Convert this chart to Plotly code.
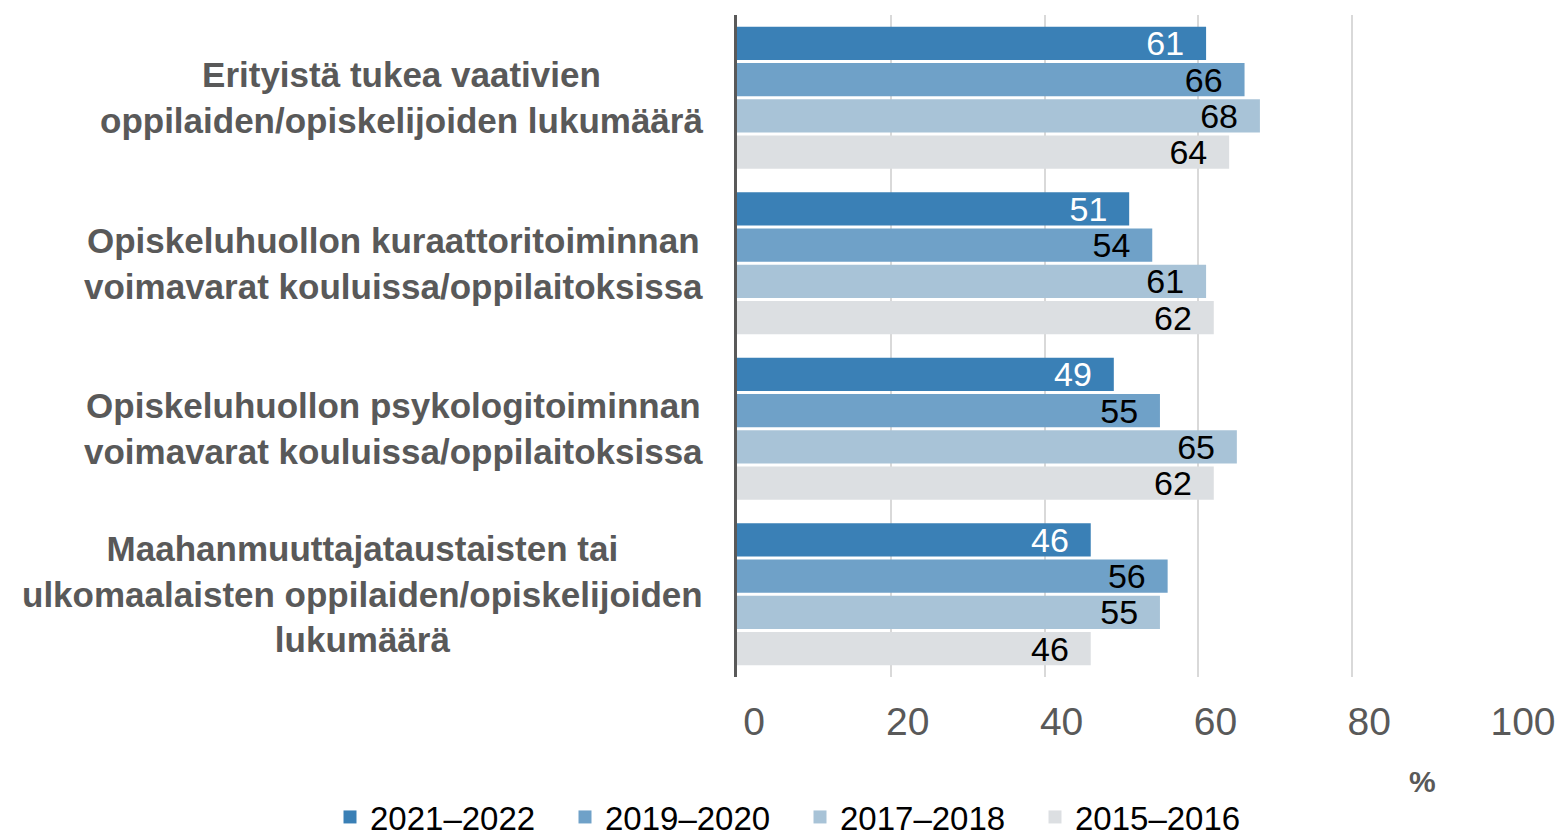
import plotly.graph_objects as go

categories = [
    "Erityistä tukea vaativien<br>oppilaiden/opiskelijoiden lukumäärä",
    "Opiskeluhuollon kuraattoritoiminnan<br>voimavarat kouluissa/oppilaitoksissa",
    "Opiskeluhuollon psykologitoiminnan<br>voimavarat kouluissa/oppilaitoksissa",
    "Maahanmuuttajataustaisten tai<br>ulkomaalaisten oppilaiden/opiskelijoiden<br>lukumäärä",
]
series_names = ["2021–2022", "2019–2020", "2017–2018", "2015–2016"]
v_2021_2022 = [61, 51, 49, 46]
v_2019_2020 = [66, 54, 55, 56]
v_2017_2018 = [68, 61, 65, 55]
v_2015_2016 = [64, 62, 62, 46]
series_values = [v_2021_2022, v_2019_2020, v_2017_2018, v_2015_2016]
x_ticks = [0, 20, 40, 60, 80, 100]

colors = ["#3A80B6", "#6FA1C8", "#A8C3D7", "#DCDFE2"]
text_colors = ["#FFFFFF", "#000000", "#000000", "#000000"]
FONT = "Liberation Sans, Arial, sans-serif"

# page body has an 8px margin; figure is sized to fit the window
W, H = 1555, 828
L, R, T, B = 729, 57, 7, 159
PW = W - L - R
PH = H - T - B

fig = go.Figure()
for name, vals, col, tcol in zip(series_names, series_values, colors, text_colors):
    fig.add_trace(go.Bar(
        y=categories, x=vals, orientation="h", name=name,
        marker=dict(color=col, line=dict(width=0)),
        text=[f"{v}\u00a0\u00a0" for v in vals],
        textposition="inside", insidetextanchor="end",
        constraintext="none",
        textfont=dict(family=FONT, size=34, color=tcol),
        showlegend=False, hoverinfo="skip",
    ))
    fig.add_trace(go.Scatter(
        x=[None], y=[None], mode="markers", name=name,
        marker=dict(symbol="square", size=13, color=col),
        showlegend=True, hoverinfo="skip",
    ))

for cat in categories:
    fig.add_annotation(
        text=cat, xref="paper", yref="y", x=-32 / PW, y=cat,
        xanchor="right", yanchor="middle", align="center", showarrow=False,
        font=dict(family=FONT, size=35, color="#595959", weight="bold"),
    )

fig.add_annotation(
    text="%", xref="paper", yref="paper", x=(1414 - L) / PW, y=-(773 - (T + PH)) / PH,
    xanchor="center", yanchor="middle", showarrow=False,
    font=dict(family=FONT, size=30, color="#595959", weight="bold"),
)

fig.update_layout(
    width=W, height=H,
    margin=dict(l=L, r=R, t=T, b=B, autoexpand=False),
    barmode="group", bargap=0.124, bargroupgap=0.08,
    plot_bgcolor="white", paper_bgcolor="white",
    font=dict(family=FONT),
    legend=dict(
        orientation="h", xref="paper", yref="paper",
        x=(322 - L) / PW, y=-(809 - (T + PH)) / PH, xanchor="left", yanchor="middle",
        font=dict(family=FONT, size=33, color="#000000"),
        entrywidth=190, entrywidthmode="pixels",
        bgcolor="rgba(0,0,0,0)",
    ),
    xaxis=dict(
        range=[0, 100], tickvals=x_ticks, showgrid=True,
        gridcolor="#D9D9D9", gridwidth=2, zeroline=False, showline=False,
        tickfont=dict(family=FONT, size=39, color="#595959"),
        ticklabelstandoff=18, ticklabelshift=17, fixedrange=True,
    ),
    yaxis=dict(
        autorange="reversed", showticklabels=False, showgrid=False,
        showline=True, linecolor="#595959", linewidth=3, zeroline=False,
        fixedrange=True,
    ),
)

fig.write_html("out.html")
